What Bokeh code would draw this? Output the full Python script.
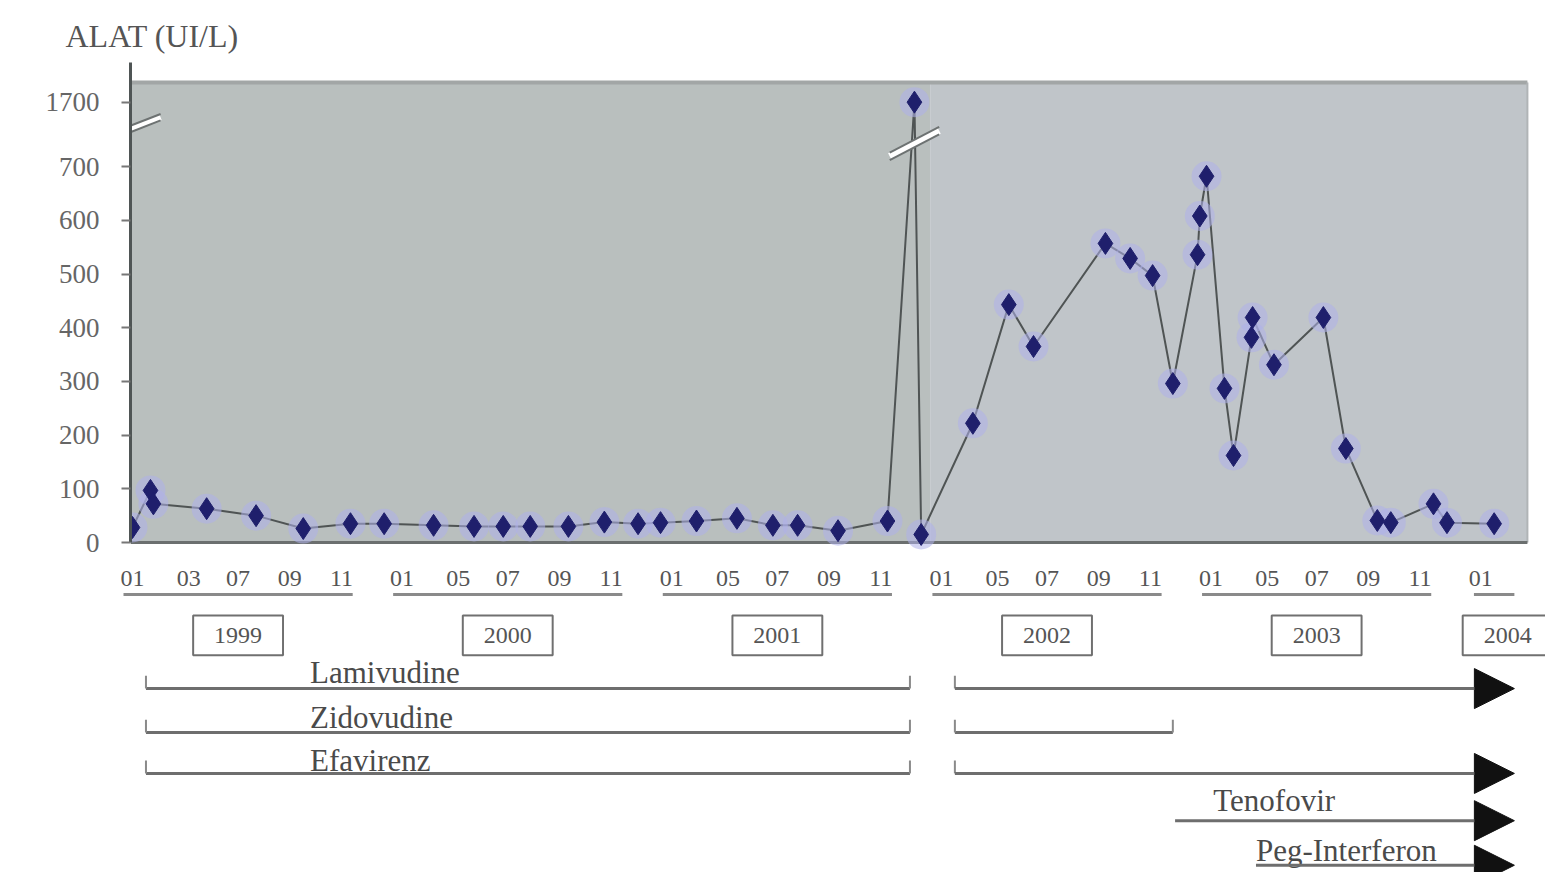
from bokeh.plotting import figure
from bokeh.layouts import column
from bokeh.models import Range1d, FixedTicker, Arrow, NormalHead, ColumnDataSource
from bokeh.core.properties import value
from bokeh.embed import file_html
from bokeh.resources import INLINE

# ---------------- data ----------------
# months since January 1999
visit_month = [0.0, 0.8, 0.93, 3.3, 5.5, 7.6, 9.7,
               11.2, 13.4, 15.2, 16.5, 17.7, 19.4, 21.0, 22.5, 23.5,
               25.1, 26.9, 28.5, 29.6, 31.4, 33.6, 34.8, 35.1,
               37.4, 39.0, 40.1, 43.3, 44.4, 45.4, 46.3,
               47.4, 47.5, 47.8, 48.6, 49.0, 49.8, 49.85, 50.8,
               53.0, 54.0, 55.4, 56.0, 57.9, 58.5, 60.6]
alat = [28, 97, 72, 63, 50, 26, 35,
        35, 32, 30, 30, 30, 30, 38, 35, 37,
        40, 45, 32, 32, 22, 40, 1700, 15,
        222, 443, 365, 557, 529, 497, 296,
        536, 608, 682, 287, 162, 382, 419, 331,
        419, 175, 41, 37, 72, 37, 35]

y_ticks = [0, 100, 200, 300, 400, 500, 600, 700, 1700]
years = ["1999", "2000", "2001", "2002", "2003", "2004"]
month_labels = [["01", "03", "07", "09", "11"],
                ["01", "05", "07", "09", "11"],
                ["01", "05", "07", "09", "11"],
                ["01", "05", "07", "09", "11"],
                ["01", "05", "07", "09", "11"],
                ["01"]]

treatments = ["Lamivudine", "Zidovudine", "Efavirenz", "Tenofovir", "Peg-Interferon"]
# (start month, end month); None = still ongoing (arrow)
treatment_periods = [[(0.6, 34.6), (36.6, None)],
                     [(0.6, 34.6), (36.6, 46.3)],
                     [(0.6, 34.6), (36.6, None)],
                     [(46.4, None)],
                     [(50.0, None)]]

# ---------------- broken axis mapping ----------------
BREAK_LOW = 750          # values above this are drawn compressed
BREAK_SHIFT = 880        # 1700 -> 820


def yb(v):
    return v if v <= BREAK_LOW else v - BREAK_SHIFT


y_plot = [yb(v) for v in alat]

SERIF = value("Liberation Serif")

# ================= top: the ALAT chart =================
p = figure(width=1545, height=560,
           x_range=Range1d(-0.089, 62.885), y_range=Range1d(-33.5, 901.3),
           output_backend="svg", toolbar_location=None,
           x_axis_location=None, y_axis_location="left",
           min_border_left=130, min_border_right=0, min_border_top=58, min_border_bottom=0)
p.frame_align = False
p.outline_line_color = None
p.background_fill_color = "white"
p.border_fill_color = "white"
p.grid.visible = False

p.title.text = "ALAT (UI/L)"
p.title.align = "left"
p.title.offset = -65
p.title.standoff = 10
p.title.text_font = "Liberation Serif"
p.title.text_font_size = "32px"
p.title.text_font_style = "normal"
p.title.text_color = "#555555"

ax = p.yaxis[0]
ax.ticker = FixedTicker(ticks=[yb(t) for t in y_ticks])
ax.major_label_overrides = {yb(t): str(t) for t in y_ticks}
ax.bounds = (0, 894)
ax.axis_line_color = "#4f5555"
ax.axis_line_width = 3
ax.major_tick_line_color = "#777777"
ax.major_tick_line_width = 2
ax.major_tick_out = 9
ax.major_tick_in = 0
ax.minor_tick_line_color = None
ax.major_label_text_font = "Liberation Serif"
ax.major_label_text_font_size = "27px"
ax.major_label_text_color = "#666666"
ax.major_label_standoff = 22

# grey panel
x_left, x_right, x_mid, y_top = -0.09, 62.08, 35.5, 856.6
p.quad(left=[x_left], right=[x_mid], bottom=[0], top=[y_top],
       fill_color="#b9bfbe", line_color=None)
p.quad(left=[x_mid], right=[x_right], bottom=[0], top=[y_top],
       fill_color="#c0c5c9", line_color=None)
p.segment(x0=[x_left], y0=[y_top], x1=[x_right], y1=[y_top], line_color="#a2a6a6", line_width=4)
p.segment(x0=[x_right], y0=[0], x1=[x_right], y1=[y_top], line_color="#b0b4b6", line_width=2)
p.segment(x0=[x_left], y0=[0], x1=[x_right], y1=[0], line_color="#6b6f6f", line_width=3)

# data line and markers
src = ColumnDataSource(dict(x=visit_month, y=y_plot, alat=alat))
p.line("x", "y", source=src, line_color="#4f5454", line_width=2)
p.scatter("x", "y", source=src, marker="circle", size=30,
          fill_color="#aeb0ea", fill_alpha=0.55, line_color=None)
p.scatter("x", "y", source=src, marker="diamond", size=22,
          fill_color="#1f1f6c", line_color="#1f1f6c")

# break mark on the spike
spike_i = alat.index(max(alat))
sx = visit_month[spike_i]
for dy, col, w in [(0, "white", 7), (-7, "#6d7272", 2), (7, "#6d7272", 2)]:
    p.segment(x0=[sx - 1.1], y0=[743 - 24 + dy], x1=[sx + 1.1], y1=[743 + 24 + dy],
              line_color=col, line_width=w)

# break mark on the y axis
for dy, col, w in [(0, "white", 6), (-6, "#6d7272", 2), (6, "#6d7272", 2)]:
    p.segment(x0=[-1.2], y0=[752 + dy], x1=[1.25], y1=[792 + dy], line_color=col, line_width=w)

# ================= bottom: months, years, treatments =================
q = figure(width=1545, height=312,
           x_range=Range1d(-5.874, 62.885), y_range=Range1d(-614.5, -33.5),
           output_backend="svg", toolbar_location=None,
           x_axis_location=None, y_axis_location=None,
           min_border_left=0, min_border_right=0, min_border_top=0, min_border_bottom=0)
q.frame_align = False
q.outline_line_color = None
q.background_fill_color = "white"
q.border_fill_color = "white"
q.grid.visible = False

offsets = [0, 2.5, 4.7, 7.0, 9.3]
lx, ly, lt = [], [], []
ux0, ux1 = [], []
bx = []
for yi, labs in enumerate(month_labels):
    base = yi * 12
    pos = [base + offsets[k] for k in range(len(labs))]
    lx += pos
    ly += [-67] * len(labs)
    lt += labs
    if len(labs) > 1:
        ux0.append(base - 0.4)
        ux1.append(base + 9.8)
        bx.append(sum(pos) / len(pos))
    else:
        ux0.append(base - 0.3)
        ux1.append(base + 1.5)
        bx.append(base + 1.2)

q.text(x=lx, y=ly, text=lt, text_font=SERIF, text_font_size="24px", text_color="#555555",
       text_align="center", text_baseline="middle")
q.segment(x0=ux0, y0=[-97] * len(ux0), x1=ux1, y1=[-97] * len(ux1),
          line_color="#8a8a8a", line_width=3)
q.rect(x=bx, y=[-173] * len(bx), width=4.0, height=74, fill_color="white",
       line_color="#707070", line_width=2)
q.text(x=bx, y=[-173] * len(bx), text=years, text_font=SERIF, text_font_size="24px",
       text_color="#555555", text_align="center", text_baseline="middle")

row_y = [-272, -354, -430, -518, -601]
text_y = [-242, -326, -406, -480, -574]
text_x = [7.9, 7.9, 7.9, 48.1, 50.0]
bracketed = [True, True, True, False, False]
ARROW_TIP = 61.5
for name, periods, ry, ty, tx, br in zip(treatments, treatment_periods, row_y, text_y, text_x, bracketed):
    for start, end in periods:
        if end is None:
            q.add_layout(Arrow(x_start=start, y_start=ry, x_end=ARROW_TIP, y_end=ry,
                               line_color="#6e6e6e", line_width=3,
                               end=NormalHead(size=40, fill_color="#111111", line_color="#111111")))
        else:
            q.segment(x0=[start], y0=[ry], x1=[end], y1=[ry], line_color="#6e6e6e", line_width=3)
            if br:
                q.segment(x0=[end], y0=[ry], x1=[end], y1=[ry + 24], line_color="#8a8a8a", line_width=2)
        if br:
            q.segment(x0=[start], y0=[ry], x1=[start], y1=[ry + 24], line_color="#8a8a8a", line_width=2)
    q.text(x=[tx], y=[ty], text=[name], text_font=SERIF, text_font_size="31px",
           text_color="#4a4a4a", text_align="left", text_baseline="middle")

layout = column(p, q, spacing=0)
open("out.html", "w").write(file_html(layout, INLINE))
